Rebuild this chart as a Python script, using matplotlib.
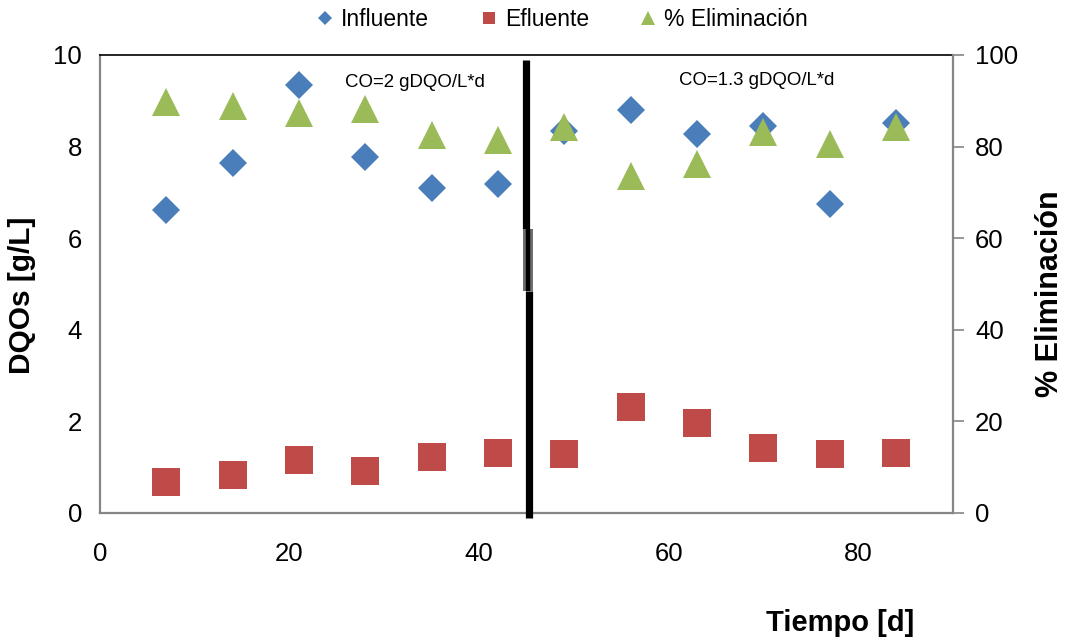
import matplotlib.pyplot as plt
from matplotlib.lines import Line2D

plt.rcParams['font.family'] = ['Liberation Sans', 'DejaVu Sans']

# datos del reactor: dia de muestreo y DQO
dias = [7, 14, 21, 28, 35, 42, 49, 56, 63, 70, 77, 84]
influente = [6.62, 7.64, 9.35, 7.77, 7.10, 7.18, 8.34, 8.80, 8.28, 8.45, 6.75, 8.52]
efluente = [0.68, 0.83, 1.16, 0.91, 1.22, 1.31, 1.29, 2.31, 1.97, 1.42, 1.29, 1.31]
eliminacion = [89.7, 88.9, 87.3, 88.2, 82.5, 81.4, 84.3, 73.6, 76.2, 83.2, 80.6, 84.3]

dia_cambio = 45
etiquetas_co = ["CO=2 gDQO/L*d", "CO=1.3 gDQO/L*d"]

azul = "#4A7EBB"
rojo = "#BE4B48"
verde = "#9BBB59"
gris = "#868686"

fig = plt.figure(figsize=(10.69, 6.4), dpi=100)
ax = fig.add_axes([100/1069, 1 - 513/640, (953 - 100)/1069, (513 - 55)/640])
ax2 = ax.twinx()

ax.plot(dias, influente, "D", color=azul, markersize=14.3, markeredgewidth=0, zorder=3)
ax.plot(dias, efluente, "s", color=rojo, markersize=20, markeredgewidth=0, zorder=3)
ax2.plot(dias, eliminacion, "^", color=verde, markersize=20.5, markeredgewidth=0, zorder=3)

# linea de cambio de carga organica
ax.plot([dia_cambio - 0.05, dia_cambio - 0.05], [9.9, 6.2], color="black", lw=5.2, solid_capstyle="butt", clip_on=False, zorder=4)
ax.plot([dia_cambio + 0.3, dia_cambio + 0.3], [4.85, -0.12], color="black", lw=5.2, solid_capstyle="butt", clip_on=False, zorder=4)
ax.plot([dia_cambio + 0.12, dia_cambio + 0.12], [6.2, 4.85], color="#6E6E6E", lw=7.2, solid_capstyle="butt", zorder=4)
ax.plot([dia_cambio + 0.12, dia_cambio + 0.12], [6.2, 4.85], color="black", lw=3.2, solid_capstyle="butt", zorder=4)

ax.text(33.2, 9.41, etiquetas_co[0], fontsize=13.4, ha="center", va="center")
ax.text(69.3, 9.45, etiquetas_co[1], fontsize=13.4, ha="center", va="center")

ax.set_xlim(0, 90)
ax.set_ylim(0, 10)
ax2.set_ylim(0, 100)
ax.set_xticks([0, 20, 40, 60, 80])
ax.set_yticks([0, 2, 4, 6, 8, 10])
ax2.set_yticks([0, 20, 40, 60, 80, 100])

ax.tick_params(axis="both", length=0, labelsize=18.5, pad=13)
ax.tick_params(axis="x", pad=21)
ax2.tick_params(axis="y", length=8, width=1.2, color=gris, labelsize=18.5, pad=8)

for lado in ["left", "bottom"]:
    ax.spines[lado].set_color(gris)
    ax.spines[lado].set_linewidth(1.6)
ax2.spines["right"].set_color(gris)
ax2.spines["right"].set_linewidth(1.6)
ax2.spines["left"].set_visible(False)
ax2.spines["bottom"].set_visible(False)
ax.spines["right"].set_visible(False)
ax.spines["top"].set_color("black")
ax.spines["top"].set_linewidth(1.2)
ax2.spines["top"].set_visible(False)

fig.text(22/1069, 1 - 295/640, "DQOs [g/L]", rotation=90, fontsize=21.5, fontweight="bold", ha="center", va="center")
fig.text(1050/1069, 1 - 294/640, "% Eliminación", rotation=90, fontsize=22, fontweight="bold", ha="center", va="center")
fig.text(840/1069, 1 - 623/640, "Tiempo [d]", fontsize=21, fontweight="bold", ha="center", va="center")

handles = [
    Line2D([], [], ls="none", marker="D", color=azul, markersize=7.5, markeredgewidth=0),
    Line2D([], [], ls="none", marker="s", color=rojo, markersize=9, markeredgewidth=0),
    Line2D([], [], ls="none", marker="^", color=verde, markersize=10, markeredgewidth=0),
]
fig.legend(handles, ["Influente", "Efluente", "% Eliminación"], loc="center", bbox_to_anchor=(562/1069, 1 - 20/640),
           ncol=3, frameon=False, fontsize=16.5, handlelength=0.8, handletextpad=0.3, columnspacing=2.2)

fig.savefig("out.png", dpi=100)
